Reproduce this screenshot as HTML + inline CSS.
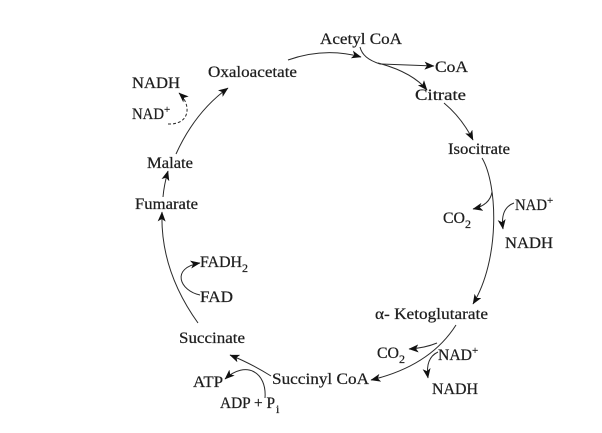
<!DOCTYPE html>
<html>
<head>
<meta charset="utf-8">
<style>
  html, body { margin: 0; padding: 0; background: #ffffff; }
  body { width: 602px; height: 433px; overflow: hidden; }
  svg { display: block; }
  text { font-family: "Liberation Serif", "DejaVu Serif", serif; font-size: 16px; fill: #1e1e1e; stroke: #1e1e1e; stroke-width: 0.25; }
  .ln { fill: none; stroke: #2a2a2a; stroke-width: 1; }
</style>
</head>
<body>
<svg width="602" height="433" viewBox="0 0 602 433" xmlns="http://www.w3.org/2000/svg">
  <defs>
    <marker id="ah" viewBox="0 0 10 8" refX="9.5" refY="4" markerWidth="10" markerHeight="8" markerUnits="userSpaceOnUse" orient="auto">
      <path d="M0,0 L10,4 L0,8 L2.5,4 z" fill="#111"/>
    </marker>
  </defs>

  <!-- Oxaloacetate -> Acetyl CoA -->
  <path class="ln" d="M288 60 Q 325 47 361 57" marker-end="url(#ah)"/>
  <!-- Acetyl CoA stem -->
  <path class="ln" d="M360 47 C 362 55, 368 60, 380 64"/>
  <path class="ln" d="M380 64 L 434 66" marker-end="url(#ah)"/>
  <path class="ln" d="M378 63 Q 412 72 427 90" marker-end="url(#ah)"/>

  <!-- Citrate -> Isocitrate -->
  <path class="ln" d="M444 103 Q 462 118 473 140" marker-end="url(#ah)"/>

  <!-- Isocitrate -> alpha-Ketoglutarate -->
  <path class="ln" d="M482 158 C 498 185, 500 260, 473 304" marker-end="url(#ah)"/>
  <path class="ln" d="M492 192 Q 490 205 473 209" marker-end="url(#ah)"/>
  <path class="ln" d="M514 203 Q 500 208 503 229" marker-end="url(#ah)"/>

  <!-- alpha-Kg -> Succinyl CoA -->
  <path class="ln" d="M456 325 Q 430 366 371 380" marker-end="url(#ah)"/>
  <path class="ln" d="M437 343 Q 425 348 409 349" marker-end="url(#ah)"/>
  <path class="ln" d="M438 352 Q 425 358 428 378" marker-end="url(#ah)"/>

  <!-- Succinyl CoA -> Succinate -->
  <path class="ln" d="M271 376 Q 250 363 230 355" marker-end="url(#ah)"/>
  <path class="ln" d="M265 398 C 267 372, 246 360, 225 379" marker-end="url(#ah)"/>

  <!-- Succinate -> Fumarate -->
  <path class="ln" d="M198 323 Q 160 270 162 212" marker-end="url(#ah)"/>
  <path class="ln" d="M200 295 C 180 291, 170 268, 200 263" marker-end="url(#ah)"/>

  <!-- Fumarate -> Malate -->
  <path class="ln" d="M163 197 Q 164 185 168 171" marker-end="url(#ah)"/>

  <!-- Malate -> Oxaloacetate -->
  <path class="ln" d="M176 154 Q 195 112 228 88" marker-end="url(#ah)"/>
  <path class="ln" d="M168 124 C 190 125, 192 105, 179 93" stroke-dasharray="3 2" marker-end="url(#ah)"/>

  <!-- Labels -->
  <text x="320" y="44" textLength="82" lengthAdjust="spacingAndGlyphs">Acetyl CoA</text>
  <text x="435" y="72" textLength="33" lengthAdjust="spacingAndGlyphs">CoA</text>
  <text x="208" y="77" textLength="89" lengthAdjust="spacingAndGlyphs">Oxaloacetate</text>
  <text x="132" y="88" textLength="48" lengthAdjust="spacingAndGlyphs">NADH</text>
  <text x="132" y="119" textLength="32" lengthAdjust="spacingAndGlyphs">NAD</text>
  <text x="164" y="113" style="font-size:11px">+</text>
  <text x="415" y="100" textLength="51" lengthAdjust="spacingAndGlyphs">Citrate</text>
  <text x="448" y="154" textLength="62" lengthAdjust="spacingAndGlyphs">Isocitrate</text>
  <text x="147" y="168" textLength="46" lengthAdjust="spacingAndGlyphs">Malate</text>
  <text x="135" y="209" textLength="63" lengthAdjust="spacingAndGlyphs">Fumarate</text>

  <text x="515" y="210" textLength="32" lengthAdjust="spacingAndGlyphs">NAD</text>
  <text x="547" y="204" style="font-size:11px">+</text>
  <text x="443" y="223" textLength="22" lengthAdjust="spacingAndGlyphs">CO</text>
  <text x="465" y="228" style="font-size:12px">2</text>
  <text x="505" y="248" textLength="48" lengthAdjust="spacingAndGlyphs">NADH</text>

  <text x="200" y="267" textLength="42" lengthAdjust="spacingAndGlyphs">FADH</text>
  <text x="242" y="272" style="font-size:12px">2</text>
  <text x="200" y="302" textLength="33" lengthAdjust="spacingAndGlyphs">FAD</text>

  <text x="375" y="319" textLength="113" lengthAdjust="spacingAndGlyphs">α- Ketoglutarate</text>
  <text x="179" y="343" textLength="66" lengthAdjust="spacingAndGlyphs">Succinate</text>

  <text x="377" y="358" textLength="22" lengthAdjust="spacingAndGlyphs">CO</text>
  <text x="399" y="363" style="font-size:12px">2</text>
  <text x="438" y="360" textLength="34" lengthAdjust="spacingAndGlyphs">NAD</text>
  <text x="472" y="354" style="font-size:11px">+</text>

  <text x="193" y="387" textLength="30" lengthAdjust="spacingAndGlyphs">ATP</text>
  <text x="272" y="384" textLength="97" lengthAdjust="spacingAndGlyphs">Succinyl CoA</text>
  <text x="432" y="394" textLength="46" lengthAdjust="spacingAndGlyphs">NADH</text>
  <text x="220" y="408" textLength="55" lengthAdjust="spacingAndGlyphs">ADP + P</text>
  <text x="276" y="413" style="font-size:12px">i</text>
</svg>
</body>
</html>
